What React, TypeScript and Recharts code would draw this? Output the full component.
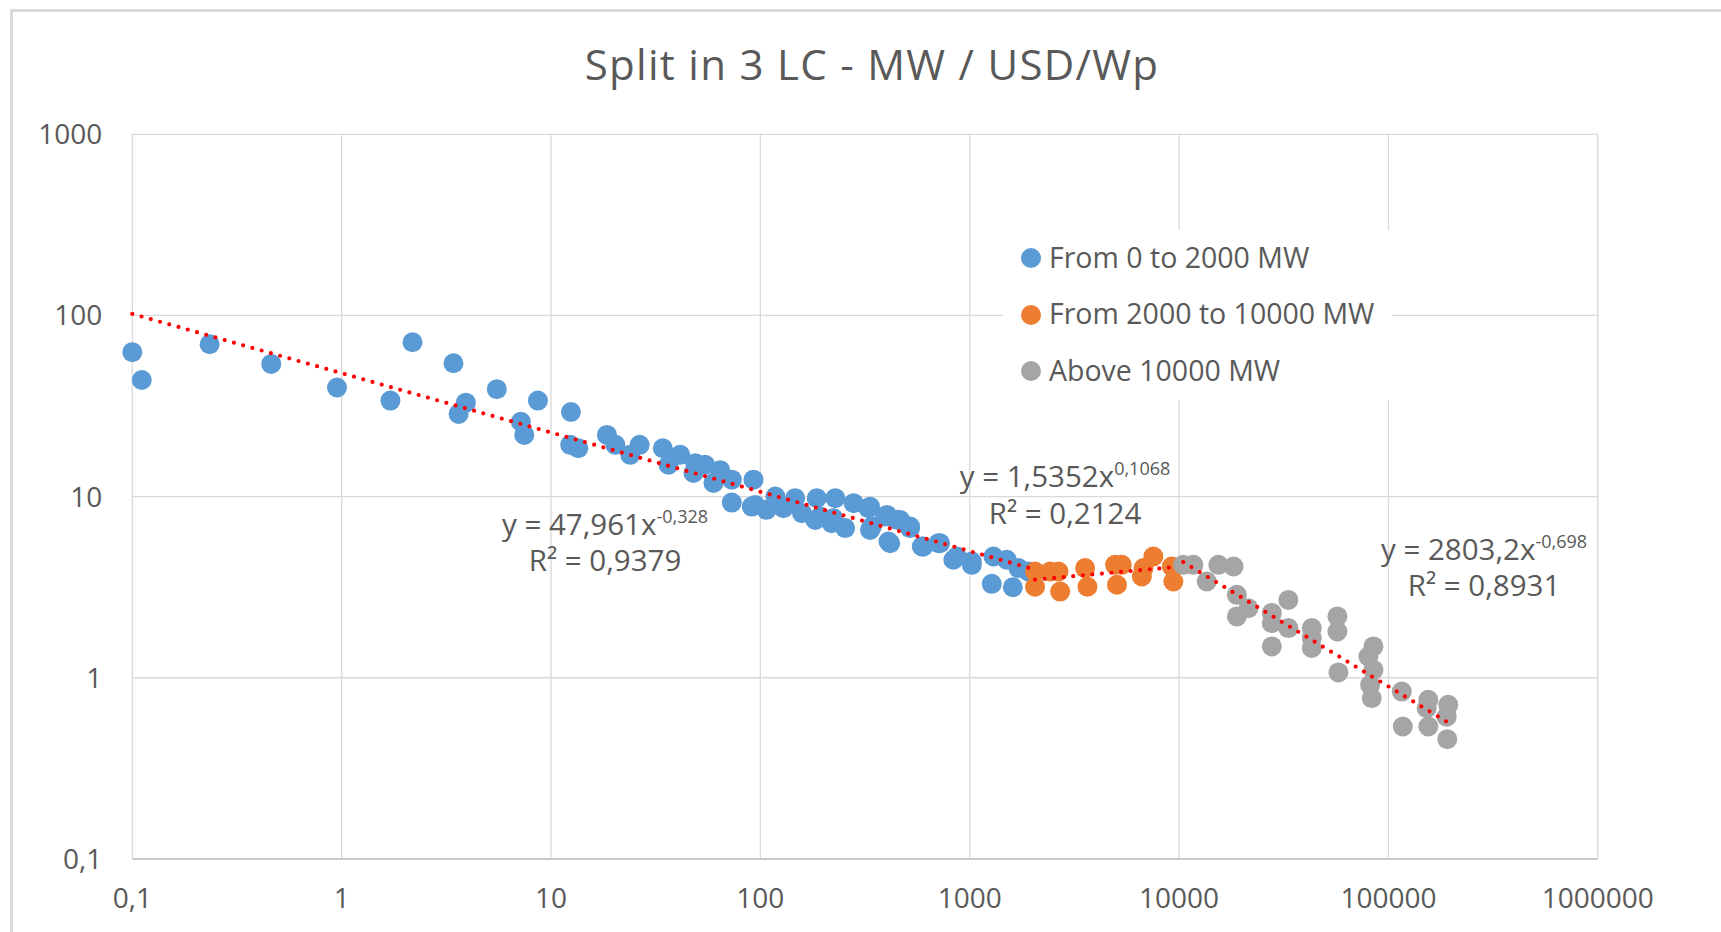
import { ScatterChart, Scatter, XAxis, YAxis, CartesianGrid } from 'recharts';

// MW installed vs USD/Wp, three size classes
const BLUE_POINTS: [number, number][] = [
  [0.1, 62.7], [0.111, 44], [0.234, 69.3], [0.461, 54], [0.95, 40], [1.71, 33.9],
  [2.18, 71.1], [3.42, 54.5], [3.92, 33], [3.62, 28.6], [5.51, 39.2], [7.18, 25.9],
  [7.45, 21.9], [8.66, 33.9], [12.45, 29.3], [12.35, 19.3], [13.5, 18.5], [18.5, 21.9],
  [20.3, 19.3], [23.9, 17], [26.5, 19.3], [34.2, 18.5], [36.4, 15], [41.4, 17],
  [48.9, 15.3], [47.9, 13.5], [54.5, 15], [64.3, 14], [59.7, 11.9], [73.1, 12.4],
  [92.7, 12.4], [73, 9.27], [91, 8.81], [94.4, 9], [107, 8.45], [118, 10],
  [129, 8.63], [146.5, 9.8], [158, 8.1], [183, 7.43], [186, 9.8], [193, 7.76],
  [219, 7.13], [228, 9.8], [223, 7.6], [254, 6.7], [279, 9.2], [328, 8.63],
  [334, 8.8], [341, 6.83], [334, 6.55], [394, 7.76], [402, 7.92], [409, 5.65],
  [417, 5.53], [449, 7.44], [466, 7.43], [519, 6.7], [519, 6.83], [590, 5.3],
  [601, 5.3], [708, 5.53], [722, 5.53], [835, 4.48], [868, 4.67], [1023, 4.38],
  [1023, 4.2], [1274, 3.3], [1298, 4.67], [1503, 4.48], [1606, 3.16], [1709, 4.03],
  [1905, 3.86],
];

const ORANGE_POINTS: [number, number][] = [
  [2051, 3.86], [2051, 3.18], [2420, 3.86], [2654, 3.86], [2704, 2.99], [3557, 4.03],
  [3650, 3.18], [4945, 4.2], [5322, 4.2], [5050, 3.26], [6762, 4.03], [6640, 3.62],
  [7535, 4.67], [9230, 4.11], [9390, 3.4],
];

const GRAY_POINTS: [number, number][] = [
  [10470, 4.2], [11700, 4.2], [13550, 3.4], [15400, 4.2], [18200, 4.11], [18880, 2.87],
  [18880, 2.18], [21440, 2.42], [27730, 2.28], [27730, 2.0], [27730, 1.49], [33270, 2.69],
  [33270, 1.88], [43040, 1.88], [43040, 1.66], [43040, 1.46], [57050, 2.18], [57050, 1.8],
  [57700, 1.07], [84800, 1.49], [80200, 1.31], [84800, 1.105], [81700, 0.914], [83200, 0.772],
  [115800, 0.839], [117100, 0.538], [155000, 0.755], [152300, 0.679], [155000, 0.538],
  [193000, 0.709], [189700, 0.61], [191000, 0.458],
];

// power trendlines: straight on log-log, so the two end points are enough
const TREND_BLUE: [number, number][] = [[0.1, 102], [1905, 4.05]];
const TREND_ORANGE: [number, number][] = [[2050, 3.48], [9390, 4.08]];
const TREND_GRAY: [number, number][] = [[10470, 4.35], [193000, 0.565]];

const X_TICKS = [0.1, 1, 10, 100, 1000, 10000, 100000, 1000000];
const Y_TICKS = [0.1, 1, 10, 100, 1000];

const SERIES_NAMES = ['From 0 to 2000 MW', 'From 2000 to 10000 MW', 'Above 10000 MW'];
const SERIES_COLORS = ['#5B9BD5', '#ED7D31', '#A5A5A5'];

const EQ_TEXT = ['47,961x', '1,5352x', '2803,2x'];
const EQ_EXP = ['-0,328', '0,1068', '-0,698'];
const EQ_R2 = ['0,9379', '0,2124', '0,8931'];

const FONT = '"Open Sans", sans-serif';
const TEXT = '#595959';
const GRID = '#d9d9d9';

const toXY = (pts: [number, number][]) => pts.map(([x, y]) => ({ x, y }));
const fmt = (v: number) => String(v).replace('.', ',');

const dot = (color: string) => (p: any) => <circle cx={p.cx} cy={p.cy} r={10} fill={color} />;
const noDot = () => <g />;

const trendLine = {
  stroke: '#FF0000',
  strokeWidth: 4.2,
  strokeDasharray: '0 9.6',
  strokeLinecap: 'round' as const,
};

// text line whose digit middle sits on cy
function TextLine({ cx, cy, size, children, align = 'center', spacing = 0 }: any) {
  const left = align === 'center' ? cx - 400 : cx;
  return (
    <div
      style={{
        position: 'absolute',
        left,
        top: cy - 0.531 * size,
        width: align === 'center' ? 800 : 'auto',
        textAlign: align,
        fontSize: size,
        lineHeight: `${size}px`,
        letterSpacing: spacing,
        whiteSpace: 'nowrap',
        color: TEXT,
      }}
    >
      {children}
    </div>
  );
}

// two-line trendline label, like Excel's single text box
function EqLabel({ cx, y1, y2, i }: any) {
  const size = 29.5;
  const lh = y2 - y1;
  const top = y1 - ((lh - 1.362 * size) / 2 + 1.069 * size - 0.357 * size);
  return (
    <div
      style={{
        position: 'absolute',
        left: cx - 300,
        top,
        width: 600,
        textAlign: 'center',
        fontSize: size,
        lineHeight: `${lh}px`,
        whiteSpace: 'nowrap',
        color: TEXT,
      }}
    >
      y = {EQ_TEXT[i]}
      <span style={{ fontSize: 18, position: 'relative', top: -12, lineHeight: 0 }}>{EQ_EXP[i]}</span>
      <br />
      R² = {EQ_R2[i]}
    </div>
  );
}

const EQ_POS = [
  { x: 605, y1: 525, y2: 561.5 },
  { x: 1065, y1: 477.5, y2: 514 },
  { x: 1484, y1: 550, y2: 586.5 },
];

export default function App() {
  const series = [BLUE_POINTS, ORANGE_POINTS, GRAY_POINTS];
  const trends = [TREND_BLUE, TREND_ORANGE, TREND_GRAY];

  return (
    <div
      style={{
        position: 'absolute',
        left: 0,
        top: 0,
        width: 1721,
        height: 932,
        overflow: 'hidden',
        background: '#fff',
        fontFamily: FONT,
      }}
    >
      <div
        style={{
          position: 'absolute',
          left: 10,
          top: 9,
          width: 1800,
          height: 1000,
          borderLeft: `3px solid ${GRID}`,
          borderTop: `3px solid ${GRID}`,
        }}
      />

      <div style={{ position: 'absolute', left: 0, top: 0 }}>
        <ScatterChart width={1721} height={932} margin={{ top: 134.3, right: 123.2, bottom: 23.1, left: 32.3 }}>
          <CartesianGrid stroke={GRID} strokeWidth={1.3} />
          <XAxis
            type="number"
            dataKey="x"
            scale="log"
            domain={[0.1, 1000000]}
            ticks={X_TICKS}
            interval={0}
            height={50}
            tickLine={false}
            tickSize={0}
            tickMargin={29}
            tickFormatter={fmt}
            axisLine={{ stroke: '#bfbfbf', strokeWidth: 1.5 }}
            tick={{ fontSize: 28, fill: TEXT, fontFamily: FONT }}
          />
          <YAxis
            type="number"
            dataKey="y"
            scale="log"
            domain={[0.1, 1000]}
            ticks={Y_TICKS}
            interval={0}
            width={100}
            tickLine={false}
            axisLine={false}
            tickSize={0}
            tickMargin={30}
            tickFormatter={fmt}
            tick={{ fontSize: 28, fill: TEXT, fontFamily: FONT }}
          />
          {series.map((pts, i) => (
            <Scatter
              key={SERIES_NAMES[i]}
              name={SERIES_NAMES[i]}
              data={toXY(pts)}
              fill={SERIES_COLORS[i]}
              shape={dot(SERIES_COLORS[i])}
              isAnimationActive={false}
            />
          ))}
          {trends.map((pts, i) => (
            <Scatter
              key={'trend' + i}
              data={toXY(pts)}
              line={trendLine}
              shape={noDot}
              isAnimationActive={false}
            />
          ))}
        </ScatterChart>
      </div>

      <TextLine cx={872} cy={65} size={42} spacing={1.3}>Split in 3 LC - MW / USD/Wp</TextLine>

      {EQ_POS.map((p, i) => (
        <EqLabel key={'eq' + i} cx={p.x} y1={p.y1} y2={p.y2} i={i} />
      ))}

      <div style={{ position: 'absolute', left: 1003, top: 230, width: 389, height: 170, background: '#fff' }} />
      {SERIES_NAMES.map((name, i) => (
        <div key={'lg' + i}>
          <div
            style={{
              position: 'absolute',
              left: 1020.7,
              top: 248.3 + i * 56.2,
              width: 20,
              height: 20,
              borderRadius: 10,
              background: SERIES_COLORS[i],
            }}
          />
          <TextLine cx={1049} cy={258.3 + i * 56.2} size={28.5} align="left">
            {name}
          </TextLine>
        </div>
      ))}
    </div>
  );
}
